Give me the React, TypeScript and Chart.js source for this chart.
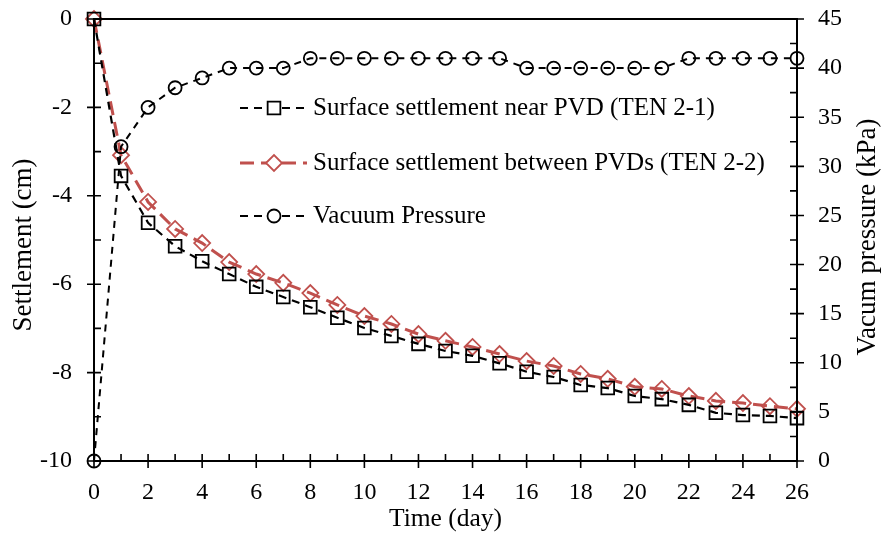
import React, { useEffect, useRef } from "react";
import { Chart, registerables } from "chart.js";

Chart.register(...registerables);

const days = [0, 1, 2, 3, 4, 5, 6, 7, 8, 9, 10, 11, 12, 13, 14, 15, 16, 17, 18, 19, 20, 21, 22, 23, 24, 25, 26];
const nearPVD = [0, -3.55, -4.61, -5.14, -5.48, -5.77, -6.06, -6.29, -6.52, -6.76, -6.99, -7.17, -7.35, -7.51, -7.62, -7.79, -7.98, -8.10, -8.28, -8.35, -8.53, -8.60, -8.73, -8.91, -8.96, -8.98, -9.03];
const betweenPVDs = [0, -3.08, -4.14, -4.75, -5.07, -5.50, -5.77, -5.97, -6.20, -6.47, -6.72, -6.90, -7.13, -7.28, -7.42, -7.58, -7.74, -7.85, -8.03, -8.14, -8.32, -8.37, -8.53, -8.64, -8.69, -8.76, -8.82];
const vacuumPressure = [0, 32, 36, 38, 39, 40, 40, 40, 41, 41, 41, 41, 41, 41, 41, 41, 40, 40, 40, 40, 40, 40, 41, 41, 41, 41, 41];

const seriesLabels = [
  "Surface settlement near PVD (TEN 2-1)",
  "Surface settlement between PVDs (TEN 2-2)",
  "Vacuum Pressure",
];
const xTitle = "Time (day)";
const yLeftTitle = "Settlement (cm)";
const yRightTitle = "Vacum pressure (kPa)";

const FONT = "'Liberation Serif', 'Times New Roman', serif";
const RED = "#C0504D";
const BLACK = "#000000";

function drawMarker(ctx: CanvasRenderingContext2D, style: string, x: number, y: number, r: number) {
  ctx.beginPath();
  if (style === "rect") {
    const s = Math.SQRT1_2 * r;
    ctx.rect(x - s, y - s, 2 * s, 2 * s);
  } else if (style === "rectRot") {
    ctx.moveTo(x - r, y);
    ctx.lineTo(x, y - r);
    ctx.lineTo(x + r, y);
    ctx.lineTo(x, y + r);
    ctx.closePath();
  } else {
    ctx.arc(x, y, r, 0, Math.PI * 2);
  }
  ctx.fill();
  ctx.stroke();
}

function drawRotatedTitle(ctx: CanvasRenderingContext2D, text: string, x: number, y: number) {
  ctx.save();
  ctx.fillStyle = BLACK;
  ctx.font = `27px ${FONT}`;
  ctx.textAlign = "center";
  ctx.textBaseline = "middle";
  ctx.translate(x, y);
  ctx.rotate(-Math.PI / 2);
  ctx.fillText(text, 0, 0);
  ctx.restore();
}

const framePlugin = {
  id: "frameTicks",
  afterDatasetsDraw(chart: any) {
    const { ctx, chartArea, scales } = chart;
    const { left, right, top, bottom } = chartArea;
    ctx.save();
    ctx.strokeStyle = BLACK;
    ctx.lineWidth = 2;
    ctx.setLineDash([]);
    ctx.strokeRect(left, top, right - left, bottom - top);
    ctx.beginPath();
    const L = 7;
    const xs = scales.x;
    for (let d = xs.min; d <= xs.max; d += 1) {
      const px = xs.getPixelForValue(d);
      const major = d % 2 === 0;
      ctx.moveTo(px, bottom + (major ? L : 0));
      ctx.lineTo(px, bottom - L);
    }
    const yl = scales.y;
    for (let v = yl.min; v <= yl.max; v += 1) {
      const py = yl.getPixelForValue(v);
      const major = v % 2 === 0;
      ctx.moveTo(left - (major ? L : 0), py);
      ctx.lineTo(left + L, py);
    }
    const yr = scales.y1;
    for (let v = yr.min; v <= yr.max; v += 2.5) {
      const py = yr.getPixelForValue(v);
      const major = v % 5 === 0;
      ctx.moveTo(right + (major ? L : 0), py);
      ctx.lineTo(right - L, py);
    }
    ctx.lineWidth = 1.6;
    ctx.stroke();
    ctx.restore();

    drawRotatedTitle(ctx, yLeftTitle, 24, 245);
    drawRotatedTitle(ctx, yRightTitle, 868, 237);
  },
  afterDraw(chart: any) {
    const { ctx } = chart;
    ctx.save();
    const rows = [
      { y: 108, color: BLACK, width: 2.2, dash: [8, 6], style: "rect", r: 9 },
      { y: 163, color: RED, width: 3, dash: [14, 7], style: "rectRot", r: 8 },
      { y: 216, color: BLACK, width: 2.2, dash: [8, 6], style: "circle", r: 6.5 },
    ];
    rows.forEach((row, i) => {
      ctx.strokeStyle = row.color;
      ctx.lineWidth = row.width;
      ctx.setLineDash(row.dash);
      ctx.beginPath();
      ctx.moveTo(240, row.y);
      ctx.lineTo(307, row.y);
      ctx.stroke();
      ctx.setLineDash([]);
      ctx.fillStyle = "#ffffff";
      ctx.lineWidth = 1.8;
      drawMarker(ctx, row.style, 274, row.y, row.r);
      ctx.fillStyle = BLACK;
      ctx.font = `25px ${FONT}`;
      ctx.textAlign = "left";
      ctx.textBaseline = "middle";
      ctx.fillText(seriesLabels[i], 313, row.y);
    });
    ctx.restore();
  },
};

export default function App() {
  const canvasRef = useRef<HTMLCanvasElement | null>(null);

  useEffect(() => {
    document.body.style.margin = "0";
    const canvas = canvasRef.current;
    if (!canvas) return;
    const tickFont = { family: FONT, size: 24 };
    const chart = new Chart(canvas, {
      type: "line",
      data: {
        datasets: [
          {
            label: seriesLabels[0],
            data: days.map((d, i) => ({ x: d, y: nearPVD[i] })),
            yAxisID: "y",
            borderColor: BLACK,
            borderWidth: 2.2,
            borderDash: [8, 6],
            pointStyle: "rect",
            pointRadius: 9,
            pointBorderWidth: 1.8,
            pointBorderColor: BLACK,
            pointBackgroundColor: "rgba(0,0,0,0)",
            fill: false,
            tension: 0,
            clip: false as any,
            order: 1,
          },
          {
            label: seriesLabels[1],
            data: days.map((d, i) => ({ x: d, y: betweenPVDs[i] })),
            yAxisID: "y",
            borderColor: RED,
            borderWidth: 3,
            borderDash: [14, 7],
            pointStyle: "rectRot",
            pointRadius: 8,
            pointBorderWidth: 1.8,
            pointBorderColor: RED,
            pointBackgroundColor: "rgba(0,0,0,0)",
            fill: false,
            tension: 0,
            clip: false as any,
            order: 2,
          },
          {
            label: seriesLabels[2],
            data: days.map((d, i) => ({ x: d, y: vacuumPressure[i] })),
            yAxisID: "y1",
            borderColor: BLACK,
            borderWidth: 2,
            borderDash: [7, 6],
            pointStyle: "circle",
            pointRadius: 6.5,
            pointBorderWidth: 1.8,
            pointBorderColor: BLACK,
            pointBackgroundColor: "rgba(0,0,0,0)",
            fill: false,
            tension: 0,
            clip: false as any,
            order: 0,
          },
        ],
      },
      options: {
        responsive: false,
        animation: false,
        layout: { padding: { top: 19, left: 0, right: 0, bottom: 0 } },
        plugins: {
          legend: { display: false },
          tooltip: { enabled: false },
        },
        scales: {
          x: {
            type: "linear",
            position: "bottom",
            min: 0,
            max: 26,
            ticks: { stepSize: 2, font: tickFont, color: BLACK, padding: 17, maxRotation: 0 },
            grid: { display: false, drawTicks: false },
            border: { display: false },
            title: { display: true, text: xTitle, font: { family: FONT, size: 25.5 }, color: BLACK, padding: { top: 0, bottom: 1 } },
            afterFit: (s: any) => { s.height = 75; s.paddingLeft = 0; s.paddingRight = 0; },
          },
          y: {
            type: "linear",
            position: "left",
            min: -10,
            max: 0,
            ticks: { stepSize: 2, font: tickFont, color: BLACK, padding: 22 },
            grid: { display: false, drawTicks: false },
            border: { display: false },
            title: { display: false },
            afterFit: (s: any) => { s.width = 94; s.paddingTop = 0; s.paddingBottom = 0; },
          },
          y1: {
            type: "linear",
            position: "right",
            min: 0,
            max: 45,
            ticks: { stepSize: 5, font: tickFont, color: BLACK, padding: 21 },
            grid: { display: false, drawTicks: false },
            border: { display: false },
            title: { display: false },
            afterFit: (s: any) => { s.width = 91; s.paddingTop = 0; s.paddingBottom = 0; },
          },
        },
      },
      plugins: [framePlugin],
    });
    return () => chart.destroy();
  }, []);

  return (
    <div style={{ position: "absolute", left: 0, top: 0, width: 888, height: 536, background: "#fff" }}>
      <canvas ref={canvasRef} width={888} height={536} />
    </div>
  );
}
